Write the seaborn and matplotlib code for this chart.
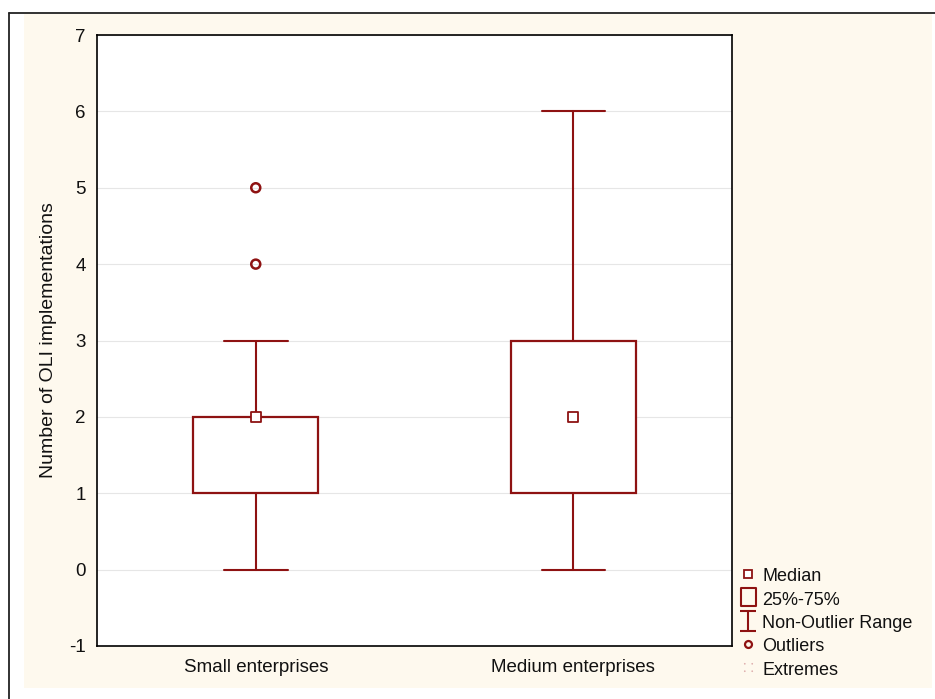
import matplotlib
matplotlib.use("Agg")
import matplotlib.pyplot as plt
import seaborn as sns
import pandas as pd
from matplotlib.lines import Line2D
from matplotlib.patches import Rectangle
from matplotlib.path import Path

# ---- data ----
categories = ["Small enterprises", "Medium enterprises"]
q1 = [1, 1]
medians = [2, 2]
q3 = [2, 3]
whisker_low = [0, 0]
whisker_high = [3, 6]
outlier_values = [[4, 5], []]
y_ticks = [-1, 0, 1, 2, 3, 4, 5, 6, 7]
y_label = "Number of OLI implementations"
legend_labels = ["Median", "25%-75%", "Non-Outlier Range", "Outliers", "Extremes"]

RED = "#8E1212"
CREAM = "#FEF9EE"

sns.set_theme(style="white")
plt.rcParams['font.family'] = ['Liberation Sans', 'DejaVu Sans']
plt.rcParams['axes.unicode_minus'] = False

fig = plt.figure(figsize=(9.35, 6.99), dpi=100)
fig.patch.set_facecolor("white")
W, H = 935.0, 699.0
# cream panel and frame lines
fig.add_artist(Rectangle((24 / W, 1 - 688 / H), (932 - 24) / W, (688 - 14) / H,
                         transform=fig.transFigure, facecolor=CREAM, edgecolor="none", zorder=-10))
fig.add_artist(Line2D([9 / W, 1.0], [1 - 13 / H, 1 - 13 / H], transform=fig.transFigure,
                      color="#222222", lw=1.3))
fig.add_artist(Line2D([9 / W, 9 / W], [0, 1 - 13 / H], transform=fig.transFigure,
                      color="#222222", lw=1.3))

ax = fig.add_axes([97 / W, 1 - 646 / H, (732 - 97) / W, (646 - 35) / H])
ax.set_facecolor("white")

positions = list(range(len(categories)))
stats = []
for i, c in enumerate(categories):
    stats.append(dict(label=c, q1=q1[i], med=medians[i], q3=q3[i],
                      whislo=whisker_low[i], whishi=whisker_high[i], fliers=[]))

ax.bxp(stats, positions=positions, widths=0.395, capwidths=0.2, patch_artist=True,
       showfliers=False,
       boxprops=dict(facecolor="white", edgecolor=RED, linewidth=1.6),
       whiskerprops=dict(color=RED, linewidth=1.5),
       capprops=dict(color=RED, linewidth=1.5),
       medianprops=dict(linewidth=0, alpha=0))

med_df = pd.DataFrame({"x": positions, "y": medians})
sns.scatterplot(data=med_df, x="x", y="y", marker="s", s=45, facecolor="white",
                edgecolor=RED, linewidth=1.3, ax=ax, zorder=5, legend=False)

out_x, out_y = [], []
for i, vals in enumerate(outlier_values):
    for v in vals:
        out_x.append(positions[i])
        out_y.append(v)
out_df = pd.DataFrame({"x": out_x, "y": out_y})
sns.scatterplot(data=out_df, x="x", y="y", marker="o", s=42, facecolor="none",
                edgecolor=RED, linewidth=1.8, ax=ax, zorder=5, legend=False)

ax.set_xlim(-0.5, 1.5)
ax.set_ylim(-1, 7)
ax.set_yticks(y_ticks)
ax.set_xticks(positions)
ax.set_xticklabels(categories)
ax.set_xlabel("")
ax.set_ylabel(y_label, fontsize=14, color="#111111", labelpad=9)
ax.yaxis.grid(True, color="#e6e6e6", linewidth=0.8)
ax.xaxis.grid(False)
ax.set_axisbelow(True)
ax.tick_params(axis="both", direction="in", length=3, width=1, color="black",
               labelsize=13.5, labelcolor="#111111")
ax.tick_params(axis="y", pad=8)
ax.tick_params(axis="x", pad=9)
for s in ax.spines.values():
    s.set_color("black")
    s.set_linewidth(1.2)

# legend handles
rect_path = Path([(-0.4, -0.5), (0.4, -0.5), (0.4, 0.5), (-0.4, 0.5), (-0.4, -0.5)],
                 [Path.MOVETO, Path.LINETO, Path.LINETO, Path.LINETO, Path.CLOSEPOLY])
ibeam_path = Path([(-0.38, 0.5), (0.38, 0.5), (0, 0.5), (0, -0.5), (-0.38, -0.5), (0.38, -0.5)],
                  [Path.MOVETO, Path.LINETO, Path.MOVETO, Path.LINETO, Path.MOVETO, Path.LINETO])
d = 0.12
dots_path = Path([(-0.5, -0.5), (-0.5 + d, -0.5 + d), (0.5, -0.5), (0.5 - d, -0.5 + d),
                  (-0.5, 0.5), (-0.5 + d, 0.5 - d), (0.5, 0.5), (0.5 - d, 0.5 - d)],
                 [Path.MOVETO, Path.LINETO] * 4)
handles = [
    Line2D([], [], ls="none", marker="s", markersize=6, markerfacecolor="white",
           markeredgecolor=RED, markeredgewidth=1.3),
    Line2D([], [], ls="none", marker=rect_path, markersize=13.5, markerfacecolor="none",
           markeredgecolor=RED, markeredgewidth=1.5),
    Line2D([], [], ls="none", marker=ibeam_path, markersize=14.5, markerfacecolor="none",
           markeredgecolor=RED, markeredgewidth=1.5),
    Line2D([], [], ls="none", marker="o", markersize=5, markerfacecolor="none",
           markeredgecolor=RED, markeredgewidth=1.6),
    Line2D([], [], ls="none", marker=dots_path, markersize=6, markerfacecolor="none",
           markeredgecolor="#d8a0a0", markeredgewidth=1.0),
]
leg = fig.legend(handles, legend_labels, loc="upper left",
                 bbox_to_anchor=(739 / W, 1 - 567 / H), frameon=False,
                 fontsize=13, handlelength=1.0, handletextpad=0.3,
                 handleheight=1.0, labelspacing=0.28, borderpad=0, borderaxespad=0)
for t in leg.get_texts():
    t.set_color("#111111")

fig.savefig("out.png", dpi=100, facecolor=fig.get_facecolor())
